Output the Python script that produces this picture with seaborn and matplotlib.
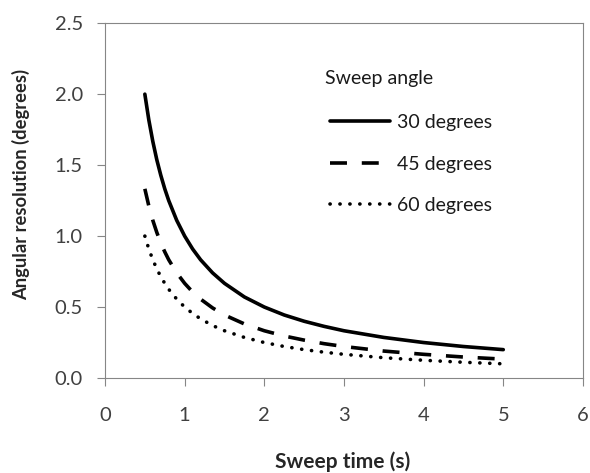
import matplotlib
matplotlib.use("Agg")
import matplotlib.pyplot as plt
import seaborn as sns
import pandas as pd
from matplotlib.lines import Line2D

sns.set_theme(style="white")
plt.rcParams['font.family'] = ['Lato', 'DejaVu Sans']

sweep_time = [0.5, 0.55, 0.6, 0.65, 0.7, 0.75, 0.8, 0.9, 1.0, 1.1, 1.2, 1.35, 1.5,
              1.75, 2.0, 2.25, 2.5, 2.75, 3.0, 3.5, 4.0, 4.5, 5.0]
res_30 = [2.0, 1.818, 1.667, 1.538, 1.429, 1.333, 1.25, 1.111, 1.0, 0.909, 0.833, 0.741,
          0.667, 0.571, 0.5, 0.444, 0.4, 0.364, 0.333, 0.286, 0.25, 0.222, 0.2]
res_45 = [1.333, 1.212, 1.111, 1.026, 0.952, 0.889, 0.833, 0.741, 0.667, 0.606, 0.556, 0.494,
          0.444, 0.381, 0.333, 0.296, 0.267, 0.242, 0.222, 0.190, 0.167, 0.148, 0.133]
res_60 = [1.0, 0.909, 0.833, 0.769, 0.714, 0.667, 0.625, 0.556, 0.5, 0.455, 0.417, 0.370,
          0.333, 0.286, 0.25, 0.222, 0.2, 0.182, 0.167, 0.143, 0.125, 0.111, 0.1]
series_names = ["30 degrees", "45 degrees", "60 degrees"]
x_ticks = [0, 1, 2, 3, 4, 5, 6]
y_ticks = [0.0, 0.5, 1.0, 1.5, 2.0, 2.5]
y_tick_labels = ["0.0", "0.5", "1.0", "1.5", "2.0", "2.5"]

rows = []
for name, vals in zip(series_names, [res_30, res_45, res_60]):
    for t, v in zip(sweep_time, vals):
        rows.append({"t": t, "res": v, "angle": name})
df = pd.DataFrame(rows)

fig = plt.figure(figsize=(5.9, 4.73), dpi=100)
ax = fig.add_axes([0.178, 0.2008, 0.81, 0.7502])

LW = 2.6
dash_map = {"30 degrees": None, "45 degrees": (4.7, 4.1), "60 degrees": (0.05, 2.7)}
cap_map = {"30 degrees": "butt", "45 degrees": "butt", "60 degrees": "round"}
for name in series_names:
    sub = df[df["angle"] == name]
    sns.lineplot(data=sub, x="t", y="res", ax=ax, color="black", lw=LW, legend=False)
for ln, name in zip(ax.lines, series_names):
    if dash_map[name] is not None:
        ln.set_dashes(dash_map[name])
        ln.set_dash_capstyle(cap_map[name])

ax.set_xlim(0, 6)
ax.set_ylim(0, 2.5)
ax.set_xticks(x_ticks)
ax.set_yticks(y_ticks)
ax.set_yticklabels(y_tick_labels)
ax.tick_params(axis="both", direction="out", length=6, width=0.8, color="#868686",
               labelsize=14.5, labelcolor="#404040")
ax.tick_params(axis="y", pad=10)
ax.tick_params(axis="x", pad=15)
ax.tick_params(left=True, bottom=True)
for s in ax.spines.values():
    s.set_color("#868686")
    s.set_linewidth(0.8)

ax.set_xlabel("Sweep time (s)", fontsize=15, fontweight="bold", va="center")
ax.xaxis.set_label_coords(0.498, -0.237)
ax.set_ylabel("Angular resolution (degrees)", fontsize=13.2, fontweight="bold", va="center")
ax.yaxis.set_label_coords(-0.176, 0.544)

ax.text(0.460, 0.845, "Sweep angle", transform=ax.transAxes, ha="left", va="center",
        fontsize=14, color="#1a1a1a")
handles = [
    Line2D([0], [0], color="black", lw=LW),
    Line2D([0], [0], color="black", lw=LW, dashes=dash_map["45 degrees"], dash_capstyle="butt"),
    Line2D([0], [0], color="black", lw=LW, dashes=dash_map["60 degrees"], dash_capstyle="round"),
]
leg = ax.legend(handles, series_names, loc="center left", bbox_to_anchor=(0.471, 0.603),
                frameon=False, fontsize=14, handlelength=3.1, labelspacing=1.26,
                handletextpad=0.35, borderpad=0, borderaxespad=0)
for t in leg.get_texts():
    t.set_color("#1a1a1a")

fig.savefig("out.png", dpi=100)
